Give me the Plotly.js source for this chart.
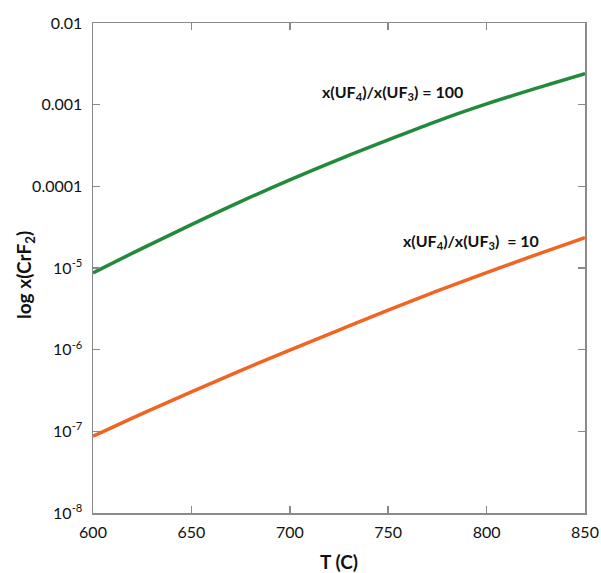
<!DOCTYPE html>
<html>
<head>
<meta charset="utf-8">
<script src="https://cdn.plot.ly/plotly-3.0.1.min.js"></script>
<style>html,body{margin:0;padding:0;background:#fff;}#chart{width:601px;height:573px;}</style>
</head>
<body>
<div id="chart"></div>
<script>
// Temperature (C)
const temperature = [600, 625, 650, 675, 700, 725, 750, 775, 800, 825, 850];
// x(CrF2) for x(UF4)/x(UF3) = 100
const ratio100 = [8.7e-6, 1.74e-5, 3.4e-5, 6.5e-5, 1.2e-4, 2.14e-4, 3.7e-4, 6.3e-4, 1.02e-3, 1.58e-3, 2.4e-3];
// x(CrF2) for x(UF4)/x(UF3) = 10
const ratio10 = [8.7e-8, 1.65e-7, 3.05e-7, 5.55e-7, 9.9e-7, 1.74e-6, 3.05e-6, 5.25e-6, 8.8e-6, 1.45e-5, 2.35e-5];

const yTickVals = [1e-8, 1e-7, 1e-6, 1e-5, 1e-4, 1e-3, 1e-2];
const yTickText = ['10<sup>-8</sup>', '10<sup>-7</sup>', '10<sup>-6</sup>', '10<sup>-5</sup>', '0.0001', '0.001', '0.01'];
const xTickVals = [600, 650, 700, 750, 800, 850];

const labels = [
  {text: 'x(UF<sub>4</sub>)/x(UF<sub>3</sub>) = 100', x: 752, y: 0.00139},
  {text: 'x(UF<sub>4</sub>)/x(UF<sub>3</sub>)  = 10', x: 792, y: 0.0000209}
];

const FONT = 'Lato, "Open Sans", sans-serif';

const traces = [
  {x: temperature, y: ratio100, mode: 'lines', line: {color: '#23893b', width: 3.5, shape: 'spline'}, showlegend: false},
  {x: temperature, y: ratio10, mode: 'lines', line: {color: '#f06424', width: 3.5, shape: 'spline'}, showlegend: false}
];

const axisCommon = {
  showgrid: false, zeroline: false, showline: true, linecolor: '#8a8a8a', linewidth: 1.5,
  mirror: 'ticks', ticks: 'inside', ticklen: 7, tickcolor: '#8a8a8a', tickwidth: 1.5,
  tickfont: {family: FONT, size: 16, color: '#111'}
};

const layout = {
  width: 601, height: 573,
  margin: {l: 93, r: 16, t: 23, b: 60},
  paper_bgcolor: '#fff', plot_bgcolor: '#fff',
  font: {family: FONT, color: '#111'},
  xaxis: Object.assign({}, axisCommon, {
    range: [600, 850], tickmode: 'array', tickvals: xTickVals,
    ticklabelstandoff: 4,
    title: {text: '<b>T (C)</b>', font: {family: FONT, size: 19, color: '#111'}, standoff: 16}
  }),
  yaxis: Object.assign({}, axisCommon, {
    type: 'log', range: [-8, -2], tickmode: 'array', tickvals: yTickVals, ticktext: yTickText,
    ticklabelstandoff: 6
  }),
  annotations: labels.map(l => ({
    text: '<b>' + l.text + '</b>', x: l.x, y: Math.log10(l.y), xref: 'x', yref: 'y',
    showarrow: false, font: {family: FONT, size: 16, color: '#111'}
  })).concat([{
    text: '<b>log x(CrF<sub>2</sub>)</b>', xref: 'paper', yref: 'paper', x: -0.138, y: 0.486,
    xanchor: 'center', yanchor: 'middle', textangle: -90, showarrow: false,
    font: {family: FONT, size: 19, color: '#111'}
  }])
};

Plotly.newPlot('chart', traces, layout, {staticPlot: true, displayModeBar: false});
</script>
</body>
</html>
